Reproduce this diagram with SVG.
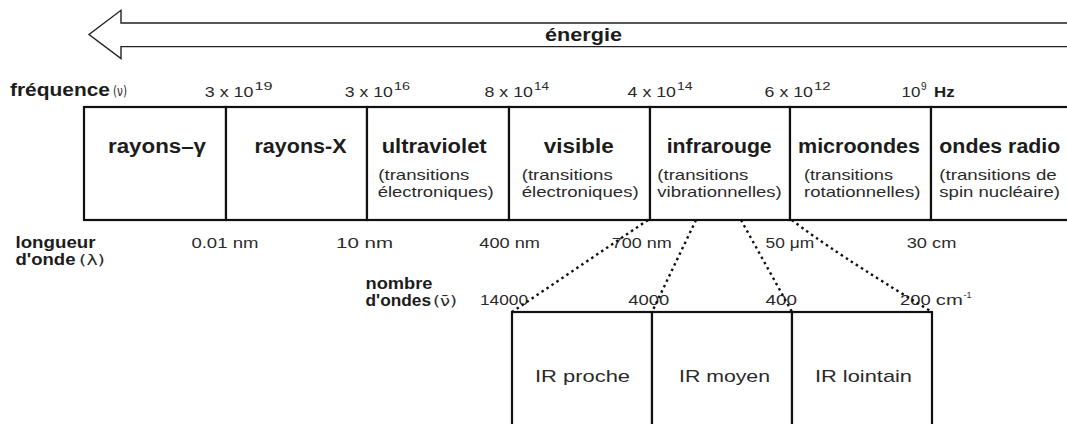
<svg xmlns="http://www.w3.org/2000/svg" width="1067" height="424" viewBox="0 0 1067 424">
<style>
text{font-family:"Liberation Sans",Arial,sans-serif;fill:#1c1c1c}
.b{font-weight:bold;font-size:20px}
.bm{font-weight:bold;font-size:17px}
.s{font-size:15px;fill:#2a2a2a}
.n{font-size:15px;fill:#2a2a2a}
.sup{font-size:10px;fill:#2a2a2a}
.g{font-size:14px;fill:#2a2a2a;font-family:"DejaVu Sans","Liberation Sans",sans-serif}
.ir{font-size:17px;fill:#2a2a2a}
.cell{fill:#fff;stroke:#111;stroke-width:2.2}
.dot{fill:none;stroke:#111;stroke-width:2.4;stroke-dasharray:2.5 3.5}
</style>
<rect width="1067" height="424" fill="#fff"/>
<g id="energy-arrow">
<polygon points="1075,23 121,23 121,10.3 89,34.5 121,58.6 121,46.6 1075,46.6" fill="#fff" stroke="#222" stroke-width="1.4"/>
<text class="b" x="545" y="41" style="font-size:18px" textLength="77" lengthAdjust="spacingAndGlyphs">énergie</text>
</g>
<g id="freq-row">
<text class="b" x="10" y="96" style="font-size:19px" textLength="100" lengthAdjust="spacingAndGlyphs">fréquence</text>
<text class="g" x="113" y="96" textLength="14" lengthAdjust="spacingAndGlyphs">(ν)</text>
<text class="n" x="204.8" y="97" textLength="48.6" lengthAdjust="spacingAndGlyphs">3 x 10</text><text class="sup" x="254.5" y="90" textLength="18" lengthAdjust="spacingAndGlyphs">19</text>
<text class="n" x="344.8" y="97" textLength="48" lengthAdjust="spacingAndGlyphs">3 x 10</text><text class="sup" x="394" y="90" textLength="16" lengthAdjust="spacingAndGlyphs">16</text>
<text class="n" x="484.5" y="97" textLength="48.5" lengthAdjust="spacingAndGlyphs">8 x 10</text><text class="sup" x="534" y="90" textLength="15" lengthAdjust="spacingAndGlyphs">14</text>
<text class="n" x="627.6" y="97" textLength="48.4" lengthAdjust="spacingAndGlyphs">4 x 10</text><text class="sup" x="677" y="90" textLength="15.7" lengthAdjust="spacingAndGlyphs">14</text>
<text class="n" x="764.6" y="97" textLength="48.4" lengthAdjust="spacingAndGlyphs">6 x 10</text><text class="sup" x="814" y="90" textLength="16.7" lengthAdjust="spacingAndGlyphs">12</text>
<text class="n" x="901.6" y="97" textLength="18.8" lengthAdjust="spacingAndGlyphs">10</text><text class="sup" x="921" y="90">9</text>
<text class="b" x="934" y="97" style="font-size:15px" textLength="20.6" lengthAdjust="spacingAndGlyphs">Hz</text>
</g>
<g id="gamma">
<rect class="cell" x="84" y="107" width="142" height="113"/>
<text class="b" x="108" y="153" textLength="98" lengthAdjust="spacingAndGlyphs">rayons–γ</text>
</g>
<g id="xray">
<rect class="cell" x="226" y="107" width="141" height="113"/>
<text class="b" x="254.5" y="153" textLength="92" lengthAdjust="spacingAndGlyphs">rayons-X</text>
</g>
<g id="uv">
<rect class="cell" x="367" y="107" width="142" height="113"/>
<text class="b" x="381.7" y="153" textLength="105" lengthAdjust="spacingAndGlyphs">ultraviolet</text>
<text class="s" x="378.3" y="180" textLength="91" lengthAdjust="spacingAndGlyphs">(transitions</text>
<text class="s" x="377.7" y="197" textLength="116" lengthAdjust="spacingAndGlyphs">électroniques)</text>
</g>
<g id="visible">
<rect class="cell" x="509" y="107" width="141" height="113"/>
<text class="b" x="543.7" y="153" textLength="70" lengthAdjust="spacingAndGlyphs">visible</text>
<text class="s" x="521.7" y="180" textLength="91" lengthAdjust="spacingAndGlyphs">(transitions</text>
<text class="s" x="521.7" y="197" textLength="117" lengthAdjust="spacingAndGlyphs">électroniques)</text>
</g>
<g id="infrared">
<rect class="cell" x="650" y="107" width="140" height="113"/>
<text class="b" x="666.7" y="153" textLength="105" lengthAdjust="spacingAndGlyphs">infrarouge</text>
<text class="s" x="657.3" y="180" textLength="91" lengthAdjust="spacingAndGlyphs">(transitions</text>
<text class="s" x="657.3" y="197" textLength="124.4" lengthAdjust="spacingAndGlyphs">vibrationnelles)</text>
</g>
<g id="microwave">
<rect class="cell" x="790" y="107" width="141" height="113"/>
<text class="b" x="798" y="153" textLength="122" lengthAdjust="spacingAndGlyphs">microondes</text>
<text class="s" x="804" y="180" textLength="89" lengthAdjust="spacingAndGlyphs">(transitions</text>
<text class="s" x="804" y="197" textLength="116.4" lengthAdjust="spacingAndGlyphs">rotationnelles)</text>
</g>
<g id="radio">
<rect class="cell" x="931" y="107" width="150" height="113"/>
<text class="b" x="939.3" y="153" textLength="121" lengthAdjust="spacingAndGlyphs">ondes radio</text>
<text class="s" x="939.3" y="180" textLength="117.4" lengthAdjust="spacingAndGlyphs">(transitions de</text>
<text class="s" x="939.3" y="197" textLength="120.7" lengthAdjust="spacingAndGlyphs">spin nucléaire)</text>
</g>
<g id="wavelength-row">
<text class="bm" x="15.5" y="248" textLength="80" lengthAdjust="spacingAndGlyphs">longueur</text>
<text class="bm" x="15.5" y="265" textLength="60" lengthAdjust="spacingAndGlyphs">d'onde</text>
<text class="g" x="79" y="265" textLength="26" lengthAdjust="spacingAndGlyphs">(λ)</text>
<text class="n" x="191.4" y="248" textLength="67" lengthAdjust="spacingAndGlyphs">0.01 nm</text>
<text class="n" x="336" y="248" textLength="57" lengthAdjust="spacingAndGlyphs">10 nm</text>
<text class="n" x="479.3" y="248" textLength="60.7" lengthAdjust="spacingAndGlyphs">400 nm</text>
<text class="n" x="611.7" y="248" textLength="60" lengthAdjust="spacingAndGlyphs">700 nm</text>
<text class="n" x="765.6" y="248" textLength="48.6" lengthAdjust="spacingAndGlyphs">50 μm</text>
<text class="n" x="906.7" y="248" textLength="49.7" lengthAdjust="spacingAndGlyphs">30 cm</text>
</g>
<g id="wavenumber-row">
<text class="bm" x="365.5" y="289" textLength="67" lengthAdjust="spacingAndGlyphs">nombre</text>
<text class="bm" x="365.5" y="306" textLength="65.5" lengthAdjust="spacingAndGlyphs">d'ondes</text>
<text class="g" x="433" y="306" textLength="24" lengthAdjust="spacingAndGlyphs">(ν̄)</text>
<text class="n" x="480" y="305" textLength="48" lengthAdjust="spacingAndGlyphs">14000</text>
<text class="n" x="628.3" y="305" textLength="41" lengthAdjust="spacingAndGlyphs">4000</text>
<text class="n" x="765.6" y="305" textLength="31.4" lengthAdjust="spacingAndGlyphs">400</text>
<text class="n" x="900" y="305" textLength="30.7" lengthAdjust="spacingAndGlyphs">200</text>
<text class="n" x="935.8" y="305" textLength="27" lengthAdjust="spacingAndGlyphs">cm</text>
<text class="sup" x="963.5" y="298" style="font-size:9px">-1</text>
</g>
<g id="connectors">
<line class="dot" x1="648" y1="220" x2="512" y2="312"/>
<line class="dot" x1="696" y1="220" x2="652" y2="312"/>
<line class="dot" x1="741" y1="220" x2="792" y2="312"/>
<path class="dot" d="M792,220 Q830,250 932,312"/>
</g>
<g id="ir-near">
<rect class="cell" x="512" y="312" width="140" height="125"/>
<text class="ir" x="535" y="382" textLength="95" lengthAdjust="spacingAndGlyphs">IR proche</text>
</g>
<g id="ir-mid">
<rect class="cell" x="652" y="312" width="140" height="125"/>
<text class="ir" x="679" y="382" textLength="91" lengthAdjust="spacingAndGlyphs">IR moyen</text>
</g>
<g id="ir-far">
<rect class="cell" x="792" y="312" width="140" height="125"/>
<text class="ir" x="815" y="382" textLength="97" lengthAdjust="spacingAndGlyphs">IR lointain</text>
</g>
</svg>
